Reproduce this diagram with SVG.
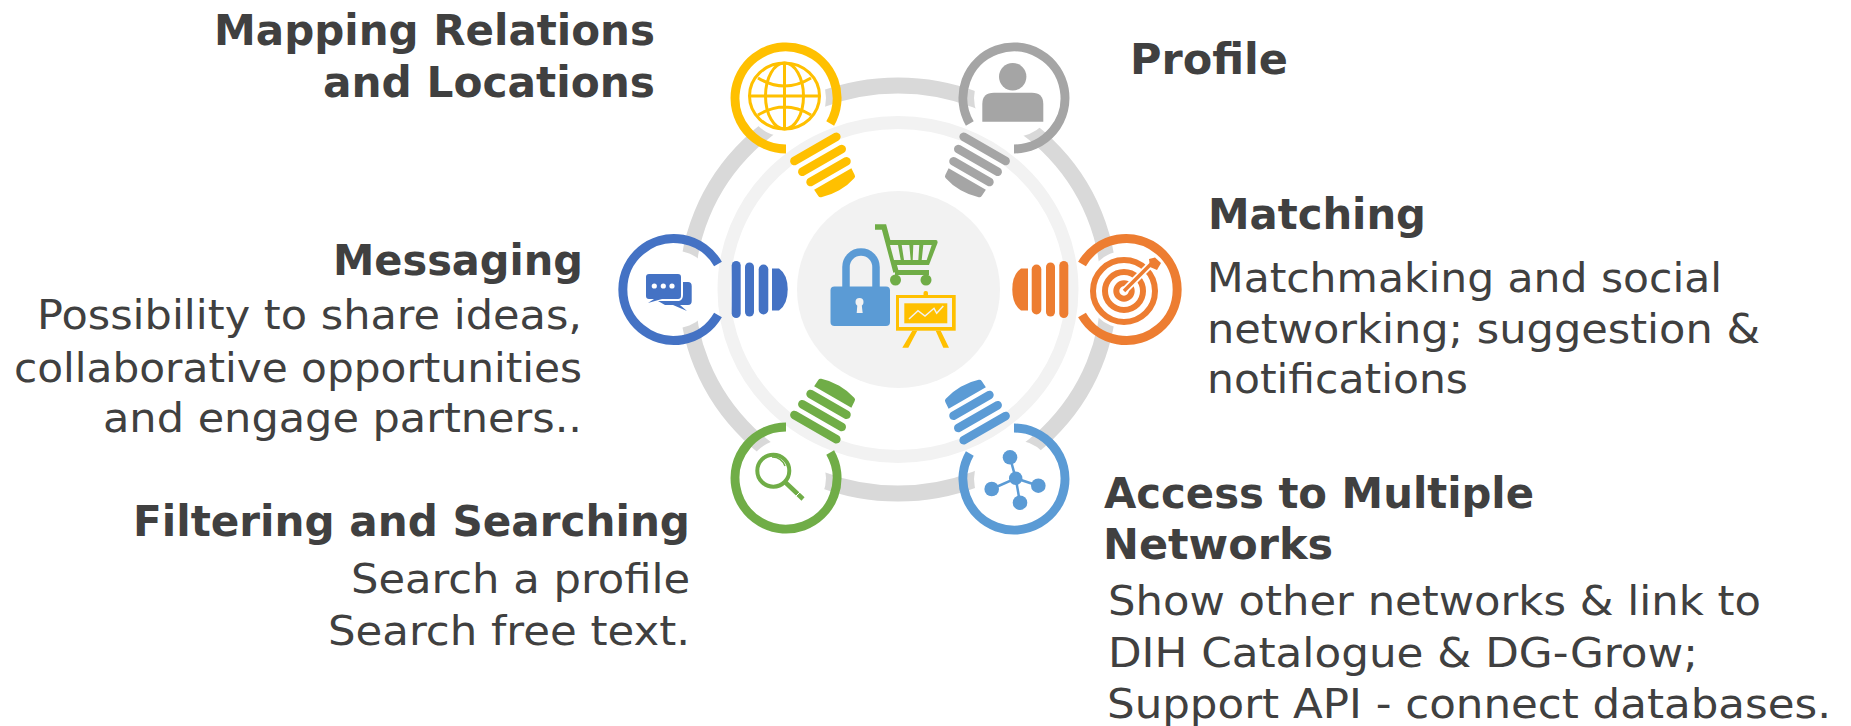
<svg xmlns="http://www.w3.org/2000/svg" width="1851" height="726" viewBox="0 0 1851 726">
<style>
.t{font-family:"DejaVu Sans",Verdana,sans-serif;fill:#404040;font-size:40px}
.b{font-weight:bold;font-size:42px}
.e{text-anchor:end}
.ring{fill:none}
.disk{fill:#fff}
</style>
<defs>
<g id="base">
<rect x="57.7" y="-28.5" width="9" height="57" rx="4.5"/>
<rect x="71" y="-27" width="9" height="54" rx="4.5"/>
<rect x="84.7" y="-25" width="9.6" height="50" rx="4.8"/>
<path d="M98,-21L105,-21Q113.7,-15 113.7,0Q113.7,15 105,21L98,21Z"/>
</g>
<g id="base-d">
<rect x="54.500" y="-28.500" width="8.500" height="57" rx="4.200"/>
<rect x="67.800" y="-27" width="8.500" height="54" rx="4.200"/>
<rect x="80.800" y="-25" width="8.500" height="50" rx="4.200"/>
<path d="M93.500,-21.500L101,-21Q103,-21 103.500,-19Q106.500,-10 106.500,0Q106.500,10 103.500,19Q103,21 101,21L93.500,21.500Z"/>
</g>
</defs>
<rect width="1851" height="726" fill="#fff"/>
<g id="connectors">
<ellipse class="ring" cx="898" cy="289.5" rx="211" ry="204" stroke="#d9d9d9" stroke-width="16"/>
<ellipse class="ring" cx="898" cy="289.5" rx="174" ry="167" stroke="#f2f2f2" stroke-width="13"/>
</g>
<g id="center">
<ellipse cx="898.5" cy="289.5" rx="101.5" ry="98.5" fill="#f2f2f2"/>
<g id="lock">
<path d="M846,288V267a15,15 0 0 1 30,0V288" fill="none" stroke="#5b9bd5" stroke-width="7.500"/>
<rect x="830.500" y="286.500" width="59.500" height="39.500" rx="4" fill="#5b9bd5"/>
<circle cx="859.500" cy="302" r="4" fill="#f2f2f2"/>
<path d="M857.500,303H861.500L862.700,313H856.700Z" fill="#f2f2f2"/>
</g>
<g id="cart" fill="#70ad47">
<path d="M875,227H884L896,272" fill="none" stroke="#70ad47" stroke-width="5.500"/>
<path d="M887,240H936Q938,240 937.500,243L929,265H893Z"/>
<path d="M890,245H898L900.700,260H894ZM901.700,245H909.300L910.700,260H904ZM913.300,245H919.300L918.300,260H912.700ZM923.300,245H931.700L926.700,260H921.700Z" fill="#f2f2f2"/>
<rect x="895" y="270" width="34" height="5"/>
<circle cx="895.500" cy="280" r="5.500"/><circle cx="926" cy="280" r="5.500"/>
</g>
<g id="easel" fill="#ffc000">
<rect x="896" y="295" width="59.700" height="35.700"/>
<rect x="899" y="298" width="53" height="29" fill="#f2f2f2"/>
<rect x="904.300" y="303.300" width="43" height="20"/>
<rect x="923.500" y="291" width="4.500" height="6" rx="2"/>
<path d="M912.300,330.700H917.300L908.300,347.700H902.300ZM935.700,330.700H940.700L949,347.700H943.300Z"/>
<path d="M909,319L918,310.700L925,316L934,308.300L936.700,313.300L943.300,306" fill="none" stroke="#f2f2f2" stroke-width="1.500"/>
</g>
</g>
<g id="node-mapping" fill="#ffc000" stroke="none">
<ellipse class="disk" cx="786" cy="98" rx="40" ry="39"/>
<path d="M786,149A51,51 0 1 1 830.200,123.500" fill="none" stroke="#ffc000" stroke-width="9"/>
<use href="#base-d" transform="translate(786,98) rotate(60)"/>
<g fill="none" stroke="#ffc000" stroke-width="3"><ellipse cx="784.500" cy="96" rx="35" ry="33"/><ellipse cx="784.500" cy="96" rx="19" ry="33"/><path d="M784.500,63V129M750,96H819M758,78Q784.500,94 811,78M758,115Q784.500,99 811,115"/></g>
<text class="t b e" x="655" y="45" textLength="441" lengthAdjust="spacingAndGlyphs">Mapping Relations</text>
<text class="t b e" x="655" y="96.700" textLength="332" lengthAdjust="spacingAndGlyphs">and Locations</text>
</g>
<g id="node-profile" fill="#a5a5a5">
<ellipse class="disk" cx="1014" cy="98" rx="40" ry="39"/>
<path d="M1014,149A51,51 0 1 0 969.800,123.500" fill="none" stroke="#a5a5a5" stroke-width="9"/>
<use href="#base-d" transform="translate(1014,98) rotate(120)"/>
<circle cx="1012.700" cy="76.700" r="13.700"/>
<path d="M982.300,121.700V104Q982.300,92.700 994,92.700H1032Q1043.300,92.700 1043.300,104V121.700Z"/>
<text class="t b" x="1130" y="74" textLength="158" lengthAdjust="spacingAndGlyphs">Profile</text>
</g>
<g id="node-messaging" fill="#4472c4">
<ellipse class="disk" cx="674" cy="289.500" rx="40" ry="39"/>
<path d="M718,264A51,51 0 1 0 718,315" fill="none" stroke="#4472c4" stroke-width="9"/>
<use href="#base" transform="translate(674,289.500)"/>
<path d="M683,282H688Q691.700,282 691.700,286V301Q691.700,305 688,305H680L687,311L673,305H665L658,301H679Q683,300 683,295Z"/>
<path d="M649,274H678Q681,274 681,277V296Q681,299 678,299H662L648,303L654,299H649Q646,299 646,296V277Q646,274 649,274Z"/>
<g fill="#fff"><circle cx="654.300" cy="286" r="2.600"/><circle cx="663.300" cy="286" r="2.600"/><circle cx="672" cy="286" r="2.600"/></g>
<text class="t b e" x="583" y="275" textLength="250" lengthAdjust="spacingAndGlyphs">Messaging</text>
<text class="t e" x="582" y="329.300" textLength="545" lengthAdjust="spacingAndGlyphs">Possibility to share ideas,</text>
<text class="t e" x="582" y="381.700" textLength="568" lengthAdjust="spacingAndGlyphs">collaborative opportunities</text>
<text class="t e" x="582" y="432.300" textLength="479" lengthAdjust="spacingAndGlyphs">and engage partners..</text>
</g>
<g id="node-matching" fill="#ed7d31">
<ellipse class="disk" cx="1126" cy="289.500" rx="40" ry="39"/>
<path d="M1082,264A51,51 0 1 1 1082,315" fill="none" stroke="#ed7d31" stroke-width="9"/>
<use href="#base" transform="translate(1126,289.500) rotate(180)"/>
<g fill="none" stroke="#ed7d31" stroke-width="6"><circle cx="1124" cy="291" r="31"/><circle cx="1124" cy="291" r="19"/><circle cx="1124" cy="291" r="7.700"/></g>
<path d="M1124,291L1152,263" fill="none" stroke="#fff" stroke-width="7"/>
<path d="M1124,291L1152,263" fill="none" stroke="#ed7d31" stroke-width="3.500"/>
<path d="M1149,259L1155,257.500L1161,263L1157,270L1150,267Z"/>
<text class="t b" x="1208" y="229.300" textLength="218" lengthAdjust="spacingAndGlyphs">Matching</text>
<text class="t" x="1207" y="291.700" textLength="515" lengthAdjust="spacingAndGlyphs">Matchmaking and social</text>
<text class="t" x="1207" y="342.700" textLength="553" lengthAdjust="spacingAndGlyphs">networking; suggestion &amp;</text>
<text class="t" x="1207" y="393.300" textLength="261" lengthAdjust="spacingAndGlyphs">notifications</text>
</g>
<g id="node-filtering" fill="#70ad47">
<ellipse class="disk" cx="786" cy="478" rx="40" ry="39"/>
<path d="M786,427A51,51 0 1 0 830.200,452.500" fill="none" stroke="#70ad47" stroke-width="9"/>
<use href="#base-d" transform="translate(786,478) rotate(-60)"/>
<circle cx="773.300" cy="470.700" r="16" fill="none" stroke="#70ad47" stroke-width="4"/>
<path d="M772,457A13,13 0 0 1 785,466" fill="none" stroke="#70ad47" stroke-width="1.500"/>
<path d="M785,482L803,499" fill="none" stroke="#70ad47" stroke-width="4.500"/>
<path d="M796,496L801,491" fill="none" stroke="#fff" stroke-width="1"/>
<text class="t b e" x="690" y="536" textLength="557" lengthAdjust="spacingAndGlyphs">Filtering and Searching</text>
<text class="t e" x="690" y="593" textLength="339" lengthAdjust="spacingAndGlyphs">Search a profile</text>
<text class="t e" x="690" y="645" textLength="362" lengthAdjust="spacingAndGlyphs">Search free text.</text>
</g>
<g id="node-networks" fill="#5b9bd5">
<ellipse class="disk" cx="1014" cy="479" rx="40" ry="39"/>
<path d="M1014,428A51,51 0 1 1 969.800,453.500" fill="none" stroke="#5b9bd5" stroke-width="9"/>
<use href="#base-d" transform="translate(1014,479) rotate(-120)"/>
<path d="M1015.700,478.300L1010,457.300M1015.700,478.300L991.700,489M1015.700,478.300L1038.300,485.700M1015.700,478.300L1020,502.700" stroke="#5b9bd5" stroke-width="2.500" fill="none"/>
<circle cx="1015.700" cy="478.300" r="6.700"/><circle cx="1010" cy="457.300" r="7.300"/><circle cx="991.700" cy="489" r="7.300"/><circle cx="1038.300" cy="485.700" r="7.300"/><circle cx="1020" cy="502.700" r="7.300"/>
<text class="t b" x="1104" y="508" textLength="430" lengthAdjust="spacingAndGlyphs">Access to Multiple</text>
<text class="t b" x="1103" y="559" textLength="230" lengthAdjust="spacingAndGlyphs">Networks</text>
<text class="t" x="1108" y="615" textLength="653" lengthAdjust="spacingAndGlyphs">Show other networks &amp; link to</text>
<text class="t" x="1108" y="667" textLength="590" lengthAdjust="spacingAndGlyphs">DIH Catalogue &amp; DG-Grow;</text>
<text class="t" x="1107" y="718" textLength="724" lengthAdjust="spacingAndGlyphs">Support API - connect databases.</text>
</g>
</svg>
